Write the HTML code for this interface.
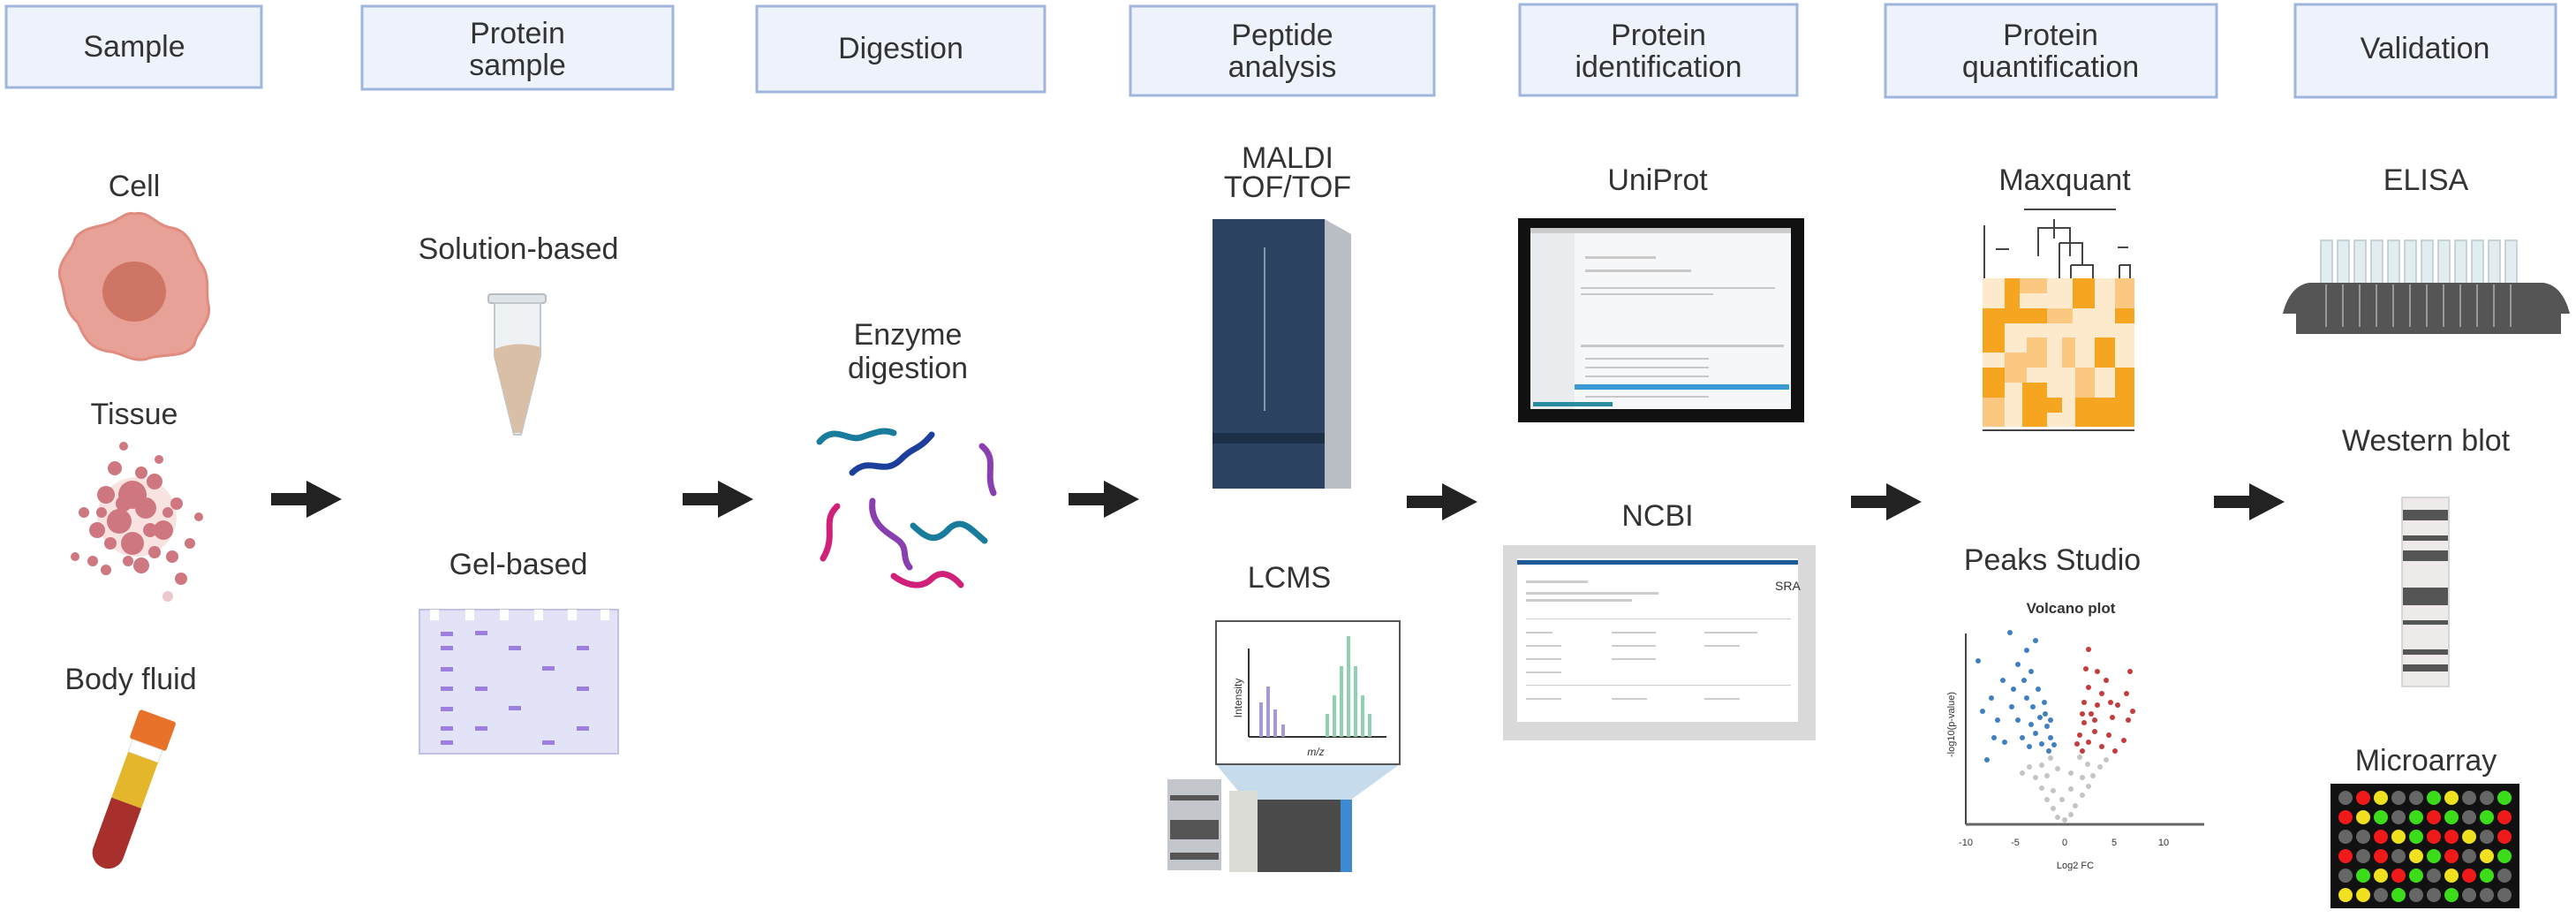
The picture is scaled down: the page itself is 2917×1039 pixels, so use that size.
<!DOCTYPE html>
<html><head><meta charset="utf-8"><style>
html,body{margin:0;padding:0;background:#fff;}
svg{display:block;}
text{font-family:"Liberation Sans",sans-serif;fill:#333;}
</style></head><body>
<svg width="2917" height="1039" viewBox="0 0 2917 1039" xmlns="http://www.w3.org/2000/svg">
<defs>
<g id="arr"><rect x="0" y="-7" width="46" height="14" fill="#222"/><polygon points="40,-21 80,0 40,21" fill="#222"/></g>
</defs>
<g stroke="#9fb5dd" stroke-width="3" fill="#eef3fb">
<rect x="7" y="7" width="289" height="92"/>
<rect x="410" y="7" width="352" height="94"/>
<rect x="857" y="7" width="326" height="97"/>
<rect x="1280" y="7" width="344" height="101"/>
<rect x="1721" y="5" width="314" height="103"/>
<rect x="2135" y="5" width="375" height="105"/>
<rect x="2599" y="5" width="295" height="105"/>
</g>
<g font-size="34" text-anchor="middle">
<text x="152" y="64">Sample</text>
<text x="586" y="49">Protein</text><text x="586" y="85">sample</text>
<text x="1020" y="66">Digestion</text>
<text x="1452" y="51">Peptide</text><text x="1452" y="87">analysis</text>
<text x="1878" y="51">Protein</text><text x="1878" y="87">identification</text>
<text x="2322" y="51">Protein</text><text x="2322" y="87">quantification</text>
<text x="2746" y="66">Validation</text>
<text x="152" y="222">Cell</text>
<text x="152" y="480">Tissue</text>
<text x="148" y="780">Body fluid</text>
<text x="587" y="293">Solution-based</text>
<text x="587" y="650">Gel-based</text>
<text x="1028" y="390">Enzyme</text><text x="1028" y="428">digestion</text>
<text x="1458" y="190">MALDI</text><text x="1458" y="223">TOF/TOF</text>
<text x="1460" y="665">LCMS</text>
<text x="1877" y="215">UniProt</text>
<text x="1877" y="595">NCBI</text>
<text x="2338" y="215">Maxquant</text>
<text x="2324" y="645">Peaks Studio</text>
<text x="2747" y="215">ELISA</text>
<text x="2747" y="510">Western blot</text>
<text x="2747" y="872">Microarray</text>
</g>
<use href="#arr" x="307" y="565"/>
<use href="#arr" x="773" y="565"/>
<use href="#arr" x="1210" y="565"/>
<use href="#arr" x="1593" y="568"/>
<use href="#arr" x="2096" y="568"/>
<use href="#arr" x="2507" y="568"/>
<path d="M152,242 C170,238 175,255 195,258 C215,262 218,280 225,295 C240,312 232,330 236,345 C240,365 222,375 220,390 C210,405 190,400 170,405 C152,412 140,400 125,398 C100,395 95,380 88,365 C70,350 75,330 68,315 C64,295 82,285 85,270 C95,255 115,258 130,250 C140,244 145,240 152,242Z" fill="#e7a196" stroke="#e08c80" stroke-width="3"/>
<ellipse cx="152" cy="330" rx="36" ry="34" fill="#cf7565"/>
<g fill="#c7606a" opacity="0.85">
<circle cx="155" cy="585" r="45" fill="#f0c8c4" opacity="0.6"/>
<circle cx="150" cy="560" r="16"/><circle cx="135" cy="590" r="14"/><circle cx="165" cy="575" r="12"/><circle cx="120" cy="560" r="10"/><circle cx="185" cy="600" r="11"/><circle cx="150" cy="615" r="13"/><circle cx="110" cy="600" r="9"/><circle cx="175" cy="545" r="9"/><circle cx="130" cy="530" r="8"/><circle cx="200" cy="570" r="7"/><circle cx="160" cy="640" r="9"/><circle cx="195" cy="630" r="7"/><circle cx="105" cy="635" r="6"/><circle cx="85" cy="630" r="5"/><circle cx="215" cy="615" r="6"/><circle cx="140" cy="505" r="5"/><circle cx="205" cy="655" r="7"/><circle cx="190" cy="675" r="6" opacity="0.4"/><circle cx="120" cy="645" r="6"/><circle cx="180" cy="520" r="5"/><circle cx="95" cy="580" r="6"/><circle cx="225" cy="585" r="5"/>
<circle cx="170" cy="600" r="8"/><circle cx="140" cy="570" r="9"/><circle cx="125" cy="615" r="7"/><circle cx="160" cy="535" r="7"/><circle cx="190" cy="580" r="6"/><circle cx="175" cy="625" r="7"/><circle cx="115" cy="580" r="6"/><circle cx="145" cy="635" r="6"/>
</g>
<g transform="rotate(20 150 890)">
<rect x="128" y="805" width="44" height="35" rx="3" fill="#e8722a"/>
<rect x="132" y="840" width="36" height="15" fill="#fff" stroke="#ddd"/>
<rect x="132" y="855" width="36" height="55" fill="#e4b62c"/>
<path d="M132,910 h36 v60 a18,18 0 0 1 -36,0z" fill="#a8302c"/>
</g>
<rect x="553" y="333" width="65" height="10" rx="3" fill="#dfe3e6" stroke="#b5bcc2" stroke-width="2"/>
<path d="M560,343 h52 v60 L590,492 L582,492 L560,403z" fill="#eef2f4" stroke="#c2c8cc" stroke-width="2"/>
<path d="M560,395 Q586,385 612,393 L612,405 L590,490 L582,490 L560,405z" fill="#d8bfa6"/>
<path d="M475,690 h225 v163 h-225z" fill="#e3e3f8" stroke="#c0c0e8" stroke-width="2"/>
<g fill="#fff"><rect x="487" y="690" width="10" height="12"/><rect x="527" y="690" width="10" height="12"/><rect x="566" y="690" width="10" height="12"/><rect x="605" y="690" width="10" height="12"/><rect x="643" y="690" width="10" height="12"/><rect x="680" y="690" width="10" height="12"/></g>
<g fill="#9d7fe0"><rect x="499" y="715" width="14" height="5"/><rect x="538" y="714" width="14" height="5"/><rect x="499" y="731" width="14" height="5"/><rect x="576" y="731" width="14" height="5"/><rect x="653" y="731" width="14" height="5"/><rect x="499" y="755" width="14" height="5"/><rect x="614" y="754" width="14" height="5"/><rect x="499" y="777" width="14" height="5"/><rect x="538" y="777" width="14" height="5"/><rect x="653" y="777" width="14" height="5"/><rect x="499" y="800" width="14" height="5"/><rect x="576" y="799" width="14" height="5"/><rect x="499" y="822" width="14" height="5"/><rect x="538" y="822" width="14" height="5"/><rect x="653" y="822" width="14" height="5"/><rect x="499" y="838" width="14" height="5"/><rect x="614" y="838" width="14" height="5"/></g>
<g fill="none" stroke-width="7" stroke-linecap="round">
<path d="M928,500 C945,480 960,500 975,495 C990,490 1000,485 1012,490" stroke="#1a7c9c"/>
<path d="M965,535 C985,515 1000,540 1020,520 C1035,505 1040,510 1055,492" stroke="#1d3f9c"/>
<path d="M1112,505 C1130,520 1115,535 1125,558" stroke="#8a3fb0"/>
<path d="M948,573 C930,590 948,605 932,632" stroke="#d0207a"/>
<path d="M988,567 C985,590 1000,600 1015,610 C1030,620 1020,630 1030,642" stroke="#8a3fb0"/>
<path d="M1034,595 C1050,610 1060,615 1075,598 C1090,585 1100,600 1115,612" stroke="#1a7c9c"/>
<path d="M1012,652 C1030,665 1045,665 1055,655 C1065,645 1078,650 1088,662" stroke="#d0207a"/>
</g>
<path d="M1373,248 L1500,248 L1530,265 L1530,553 L1373,553z" fill="#b9bec4"/>
<rect x="1373" y="248" width="127" height="305" fill="#2c4462"/>
<line x1="1432" y1="280" x2="1432" y2="465" stroke="#8799ad" stroke-width="2"/>
<rect x="1373" y="490" width="127" height="12" fill="#1e3048"/>
<polygon points="1377,865 1585,865 1530,905 1410,905" fill="#c6dced"/>
<rect x="1377" y="703" width="208" height="162" fill="#fff" stroke="#555" stroke-width="2"/>
<line x1="1414" y1="734" x2="1414" y2="834" stroke="#333" stroke-width="2"/>
<line x1="1414" y1="834" x2="1570" y2="834" stroke="#333" stroke-width="2"/>
<text x="1406" y="790" font-size="12" transform="rotate(-90 1406 790)" text-anchor="middle">Intensity</text>
<text x="1490" y="855" font-size="12" text-anchor="middle" font-style="italic">m/z</text>
<g fill="#a69ad6"><rect x="1426" y="795" width="4" height="39"/><rect x="1434" y="777" width="4" height="57"/><rect x="1442" y="803" width="4" height="31"/><rect x="1451" y="820" width="4" height="14"/></g>
<g fill="#8fd0ae"><rect x="1501" y="808" width="4" height="26"/><rect x="1509" y="787" width="4" height="47"/><rect x="1517" y="754" width="4" height="80"/><rect x="1525" y="720" width="4" height="114"/><rect x="1533" y="754" width="4" height="80"/><rect x="1541" y="787" width="4" height="47"/><rect x="1549" y="808" width="4" height="26"/></g>
<rect x="1322" y="882" width="61" height="103" fill="#c3c7cb"/>
<rect x="1325" y="900" width="55" height="6" fill="#555"/><rect x="1325" y="928" width="55" height="22" fill="#555"/><rect x="1325" y="965" width="55" height="8" fill="#555"/>
<rect x="1392" y="895" width="32" height="92" fill="#dcdcd6"/>
<rect x="1424" y="905" width="107" height="82" fill="#4b4b4b"/>
<rect x="1518" y="905" width="13" height="82" fill="#3c8ad0"/>
<rect x="1719" y="247" width="324" height="231" fill="#111"/>
<rect x="1733" y="258" width="295" height="205" fill="#f6f7f8"/>
<rect x="1733" y="258" width="295" height="6" fill="#ccc"/>
<rect x="1733" y="264" width="50" height="199" fill="#e8ecef"/>
<rect x="1783" y="435" width="243" height="6" fill="#3a9ad6"/>
<rect x="1736" y="455" width="90" height="5" fill="#2a8aa0"/>
<g fill="#c8c8c8"><rect x="1795" y="290" width="80" height="3"/><rect x="1795" y="305" width="120" height="3"/><rect x="1790" y="325" width="220" height="2"/><rect x="1790" y="332" width="150" height="2"/><rect x="1790" y="390" width="230" height="3"/><rect x="1795" y="405" width="140" height="2"/><rect x="1795" y="415" width="140" height="2"/><rect x="1795" y="425" width="140" height="2"/><rect x="1795" y="448" width="140" height="2"/></g>
<rect x="1702" y="617" width="354" height="221" fill="#d9d9d9"/>
<rect x="1718" y="632" width="318" height="185" fill="#fff"/>
<rect x="1718" y="634" width="318" height="5" fill="#1e5a96"/>
<text x="2010" y="668" font-size="14" fill="#2b7aa0">SRA</text>
<g fill="#ccc"><rect x="1728" y="657" width="70" height="3"/><rect x="1728" y="670" width="150" height="3"/><rect x="1728" y="678" width="120" height="3"/><rect x="1728" y="700" width="300" height="1"/><rect x="1728" y="715" width="30" height="2"/><rect x="1825" y="715" width="50" height="2"/><rect x="1930" y="715" width="60" height="2"/><rect x="1728" y="730" width="40" height="2"/><rect x="1825" y="730" width="50" height="2"/><rect x="1930" y="730" width="40" height="2"/><rect x="1728" y="745" width="40" height="2"/><rect x="1825" y="745" width="50" height="2"/><rect x="1728" y="760" width="40" height="2"/><rect x="1728" y="775" width="300" height="1"/><rect x="1728" y="790" width="40" height="2"/><rect x="1825" y="790" width="40" height="2"/><rect x="1930" y="790" width="40" height="2"/></g>
<g stroke="#444" stroke-width="2" fill="none">
<line x1="2292" y1="237" x2="2396" y2="237"/>
<path d="M2326,248 v10 M2308,290 V258 H2344 V290 M2326,258 V270"/>
<path d="M2332,275 H2358 V300 M2332,275 V315 M2345,300 H2370 V315 M2345,300 V315"/>
<path d="M2400,300 V315 M2400,300 H2412 V315 M2398,280 h12"/>
<line x1="2260" y1="282" x2="2275" y2="282"/>
<line x1="2247" y1="255" x2="2247" y2="315"/>
<line x1="2245" y1="487" x2="2417" y2="487"/>
</g>
<rect x="2245" y="315" width="172" height="168" fill="#fde9cc"/>
<g fill="#f5a520"><rect x="2270" y="315" width="17" height="34"/><rect x="2347" y="315" width="25" height="34"/><rect x="2245" y="349" width="25" height="50"/><rect x="2270" y="349" width="48" height="17"/><rect x="2395" y="349" width="22" height="17"/><rect x="2372" y="382" width="23" height="34"/><rect x="2245" y="416" width="25" height="34"/><rect x="2290" y="433" width="28" height="50"/><rect x="2350" y="450" width="22" height="33"/><rect x="2395" y="416" width="22" height="67"/><rect x="2318" y="450" width="17" height="17"/><rect x="2372" y="450" width="23" height="33"/></g>
<g fill="#fac880"><rect x="2287" y="315" width="31" height="17"/><rect x="2395" y="315" width="22" height="34"/><rect x="2295" y="382" width="23" height="34"/><rect x="2335" y="382" width="15" height="34"/><rect x="2270" y="399" width="25" height="34"/><rect x="2245" y="450" width="25" height="33"/><rect x="2350" y="416" width="22" height="34"/><rect x="2318" y="349" width="29" height="17"/></g>
<text x="2345" y="694" font-size="17" text-anchor="middle" font-weight="bold">Volcano plot</text>
<line x1="2226" y1="717" x2="2226" y2="933" stroke="#444" stroke-width="2"/>
<line x1="2226" y1="933" x2="2496" y2="933" stroke="#666" stroke-width="3"/>
<g font-size="11" text-anchor="middle"><text x="2226" y="957">-10</text><text x="2282" y="957">-5</text><text x="2338" y="957">0</text><text x="2394" y="957">5</text><text x="2450" y="957">10</text><text x="2350" y="983">Log2 FC</text>
<text x="2213" y="820" transform="rotate(-90 2213 820)">-log10(p-value)</text></g>
<g fill="#c4c4c4">
<circle cx="2330" cy="925" r="3"/><circle cx="2338" cy="928" r="3"/><circle cx="2345" cy="922" r="3"/><circle cx="2325" cy="915" r="3"/><circle cx="2350" cy="912" r="3"/><circle cx="2318" cy="905" r="3"/><circle cx="2358" cy="900" r="3"/><circle cx="2335" cy="905" r="3"/><circle cx="2312" cy="892" r="3"/><circle cx="2365" cy="890" r="3"/><circle cx="2325" cy="895" r="3"/><circle cx="2345" cy="893" r="3"/><circle cx="2305" cy="880" r="3"/><circle cx="2370" cy="878" r="3"/><circle cx="2318" cy="878" r="3"/><circle cx="2358" cy="880" r="3"/><circle cx="2298" cy="868" r="3"/><circle cx="2378" cy="868" r="3"/><circle cx="2312" cy="866" r="3"/><circle cx="2364" cy="865" r="3"/><circle cx="2290" cy="875" r="3"/><circle cx="2385" cy="860" r="3"/><circle cx="2330" cy="870" r="3"/><circle cx="2345" cy="875" r="3"/><circle cx="2322" cy="858" r="3"/><circle cx="2355" cy="857" r="3"/>
</g>
<g fill="#3f7fc4">
<circle cx="2320" cy="850" r="3"/><circle cx="2312" cy="842" r="3"/><circle cx="2322" cy="835" r="3"/><circle cx="2305" cy="830" r="3"/><circle cx="2318" cy="822" r="3"/><circle cx="2298" cy="845" r="3"/><circle cx="2310" cy="812" r="3"/><circle cx="2290" cy="835" r="3"/><circle cx="2302" cy="800" r="3"/><circle cx="2315" cy="795" r="3"/><circle cx="2285" cy="815" r="3"/><circle cx="2295" cy="790" r="3"/><circle cx="2308" cy="780" r="3"/><circle cx="2278" cy="800" r="3"/><circle cx="2270" cy="840" r="3"/><circle cx="2262" cy="815" r="3"/><circle cx="2255" cy="790" r="3"/><circle cx="2245" cy="805" r="3"/><circle cx="2292" cy="770" r="3"/><circle cx="2300" cy="760" r="3"/><circle cx="2285" cy="752" r="3"/><circle cx="2295" cy="736" r="3"/><circle cx="2276" cy="716" r="3"/><circle cx="2305" cy="725" r="3"/><circle cx="2240" cy="748" r="3"/><circle cx="2268" cy="770" r="3"/><circle cx="2280" cy="780" r="3"/><circle cx="2316" cy="808" r="3"/><circle cx="2258" cy="835" r="3"/><circle cx="2250" cy="860" r="3"/><circle cx="2326" cy="843" r="3"/><circle cx="2300" cy="820" r="3"/><circle cx="2322" cy="815" r="3"/>
</g>
<g fill="#c43c3c">
<circle cx="2358" cy="850" r="3"/><circle cx="2365" cy="840" r="3"/><circle cx="2355" cy="832" r="3"/><circle cx="2372" cy="828" r="3"/><circle cx="2360" cy="818" r="3"/><circle cx="2380" cy="845" r="3"/><circle cx="2368" cy="808" r="3"/><circle cx="2388" cy="832" r="3"/><circle cx="2375" cy="798" r="3"/><circle cx="2360" cy="795" r="3"/><circle cx="2392" cy="812" r="3"/><circle cx="2380" cy="785" r="3"/><circle cx="2365" cy="778" r="3"/><circle cx="2398" cy="798" r="3"/><circle cx="2405" cy="838" r="3"/><circle cx="2410" cy="815" r="3"/><circle cx="2408" cy="785" r="3"/><circle cx="2415" cy="805" r="3"/><circle cx="2385" cy="770" r="3"/><circle cx="2412" cy="760" r="3"/><circle cx="2375" cy="760" r="3"/><circle cx="2362" cy="757" r="3"/><circle cx="2365" cy="735" r="3"/><circle cx="2358" cy="808" r="3"/><circle cx="2395" cy="850" r="3"/><circle cx="2352" cy="842" r="3"/><circle cx="2372" cy="815" r="3"/><circle cx="2390" cy="795" r="3"/>
</g>
<g fill="#e2edf0" stroke="#b8c8cc" stroke-width="1.5">
<rect x="2628" y="272" width="13" height="50"/><rect x="2647" y="272" width="13" height="50"/><rect x="2666" y="272" width="13" height="50"/><rect x="2685" y="272" width="13" height="50"/><rect x="2704" y="272" width="13" height="50"/><rect x="2723" y="272" width="13" height="50"/><rect x="2742" y="272" width="13" height="50"/><rect x="2761" y="272" width="13" height="50"/><rect x="2780" y="272" width="13" height="50"/><rect x="2799" y="272" width="13" height="50"/><rect x="2818" y="272" width="13" height="50"/><rect x="2837" y="272" width="13" height="50"/>
</g>
<path d="M2585,355 C2590,335 2600,322 2615,320 L2880,320 C2895,322 2905,335 2910,355 L2900,355 L2900,378 L2600,378 L2600,355z" fill="#555"/>
<g stroke="#999" stroke-width="2"><line x1="2634" y1="322" x2="2634" y2="370"/><line x1="2653" y1="322" x2="2653" y2="370"/><line x1="2672" y1="322" x2="2672" y2="370"/><line x1="2691" y1="322" x2="2691" y2="370"/><line x1="2710" y1="322" x2="2710" y2="370"/><line x1="2729" y1="322" x2="2729" y2="370"/><line x1="2748" y1="322" x2="2748" y2="370"/><line x1="2767" y1="322" x2="2767" y2="370"/><line x1="2786" y1="322" x2="2786" y2="370"/><line x1="2805" y1="322" x2="2805" y2="370"/><line x1="2824" y1="322" x2="2824" y2="370"/><line x1="2843" y1="322" x2="2843" y2="370"/></g>
<rect x="2720" y="563" width="53" height="214" fill="#eeeaea" stroke="#ccc" stroke-width="1.5"/>
<g fill="#555"><rect x="2721" y="577" width="51" height="12"/><rect x="2721" y="606" width="51" height="6"/><rect x="2721" y="623" width="51" height="12"/><rect x="2721" y="665" width="51" height="20"/><rect x="2721" y="702" width="51" height="5"/><rect x="2721" y="735" width="51" height="6"/><rect x="2721" y="752" width="51" height="8"/></g>
<rect x="2639" y="887" width="214" height="141" fill="#111"/>
<g transform="translate(2656,903)">
<circle cx="0" cy="0" r="8" fill="#666"/><circle cx="20" cy="0" r="8" fill="#f01a1a"/><circle cx="40" cy="0" r="8" fill="#f0e020"/><circle cx="60" cy="0" r="8" fill="#666"/><circle cx="80" cy="0" r="8" fill="#666"/><circle cx="100" cy="0" r="8" fill="#3ddc1a"/><circle cx="120" cy="0" r="8" fill="#f0e020"/><circle cx="140" cy="0" r="8" fill="#666"/><circle cx="160" cy="0" r="8" fill="#666"/><circle cx="180" cy="0" r="8" fill="#3ddc1a"/>
</g>
<g transform="translate(2656,925)">
<circle cx="0" cy="0" r="8" fill="#f01a1a"/><circle cx="20" cy="0" r="8" fill="#f0e020"/><circle cx="40" cy="0" r="8" fill="#3ddc1a"/><circle cx="60" cy="0" r="8" fill="#666"/><circle cx="80" cy="0" r="8" fill="#3ddc1a"/><circle cx="100" cy="0" r="8" fill="#f01a1a"/><circle cx="120" cy="0" r="8" fill="#3ddc1a"/><circle cx="140" cy="0" r="8" fill="#666"/><circle cx="160" cy="0" r="8" fill="#3ddc1a"/><circle cx="180" cy="0" r="8" fill="#f01a1a"/>
</g>
<g transform="translate(2656,947)">
<circle cx="0" cy="0" r="8" fill="#666"/><circle cx="20" cy="0" r="8" fill="#666"/><circle cx="40" cy="0" r="8" fill="#f01a1a"/><circle cx="60" cy="0" r="8" fill="#f0e020"/><circle cx="80" cy="0" r="8" fill="#3ddc1a"/><circle cx="100" cy="0" r="8" fill="#f01a1a"/><circle cx="120" cy="0" r="8" fill="#f01a1a"/><circle cx="140" cy="0" r="8" fill="#f0e020"/><circle cx="160" cy="0" r="8" fill="#666"/><circle cx="180" cy="0" r="8" fill="#f01a1a"/>
</g>
<g transform="translate(2656,969)">
<circle cx="0" cy="0" r="8" fill="#f01a1a"/><circle cx="20" cy="0" r="8" fill="#666"/><circle cx="40" cy="0" r="8" fill="#f01a1a"/><circle cx="60" cy="0" r="8" fill="#666"/><circle cx="80" cy="0" r="8" fill="#f0e020"/><circle cx="100" cy="0" r="8" fill="#3ddc1a"/><circle cx="120" cy="0" r="8" fill="#f01a1a"/><circle cx="140" cy="0" r="8" fill="#666"/><circle cx="160" cy="0" r="8" fill="#f0e020"/><circle cx="180" cy="0" r="8" fill="#3ddc1a"/>
</g>
<g transform="translate(2656,991)">
<circle cx="0" cy="0" r="8" fill="#666"/><circle cx="20" cy="0" r="8" fill="#3ddc1a"/><circle cx="40" cy="0" r="8" fill="#f0e020"/><circle cx="60" cy="0" r="8" fill="#f01a1a"/><circle cx="80" cy="0" r="8" fill="#3ddc1a"/><circle cx="100" cy="0" r="8" fill="#666"/><circle cx="120" cy="0" r="8" fill="#f0e020"/><circle cx="140" cy="0" r="8" fill="#f01a1a"/><circle cx="160" cy="0" r="8" fill="#3ddc1a"/><circle cx="180" cy="0" r="8" fill="#666"/>
</g>
<g transform="translate(2656,1013)">
<circle cx="0" cy="0" r="8" fill="#f0e020"/><circle cx="20" cy="0" r="8" fill="#f0e020"/><circle cx="40" cy="0" r="8" fill="#666"/><circle cx="60" cy="0" r="8" fill="#3ddc1a"/><circle cx="80" cy="0" r="8" fill="#666"/><circle cx="100" cy="0" r="8" fill="#666"/><circle cx="120" cy="0" r="8" fill="#3ddc1a"/><circle cx="140" cy="0" r="8" fill="#666"/><circle cx="160" cy="0" r="8" fill="#666"/><circle cx="180" cy="0" r="8" fill="#666"/>
</g>
</svg>
</body></html>
